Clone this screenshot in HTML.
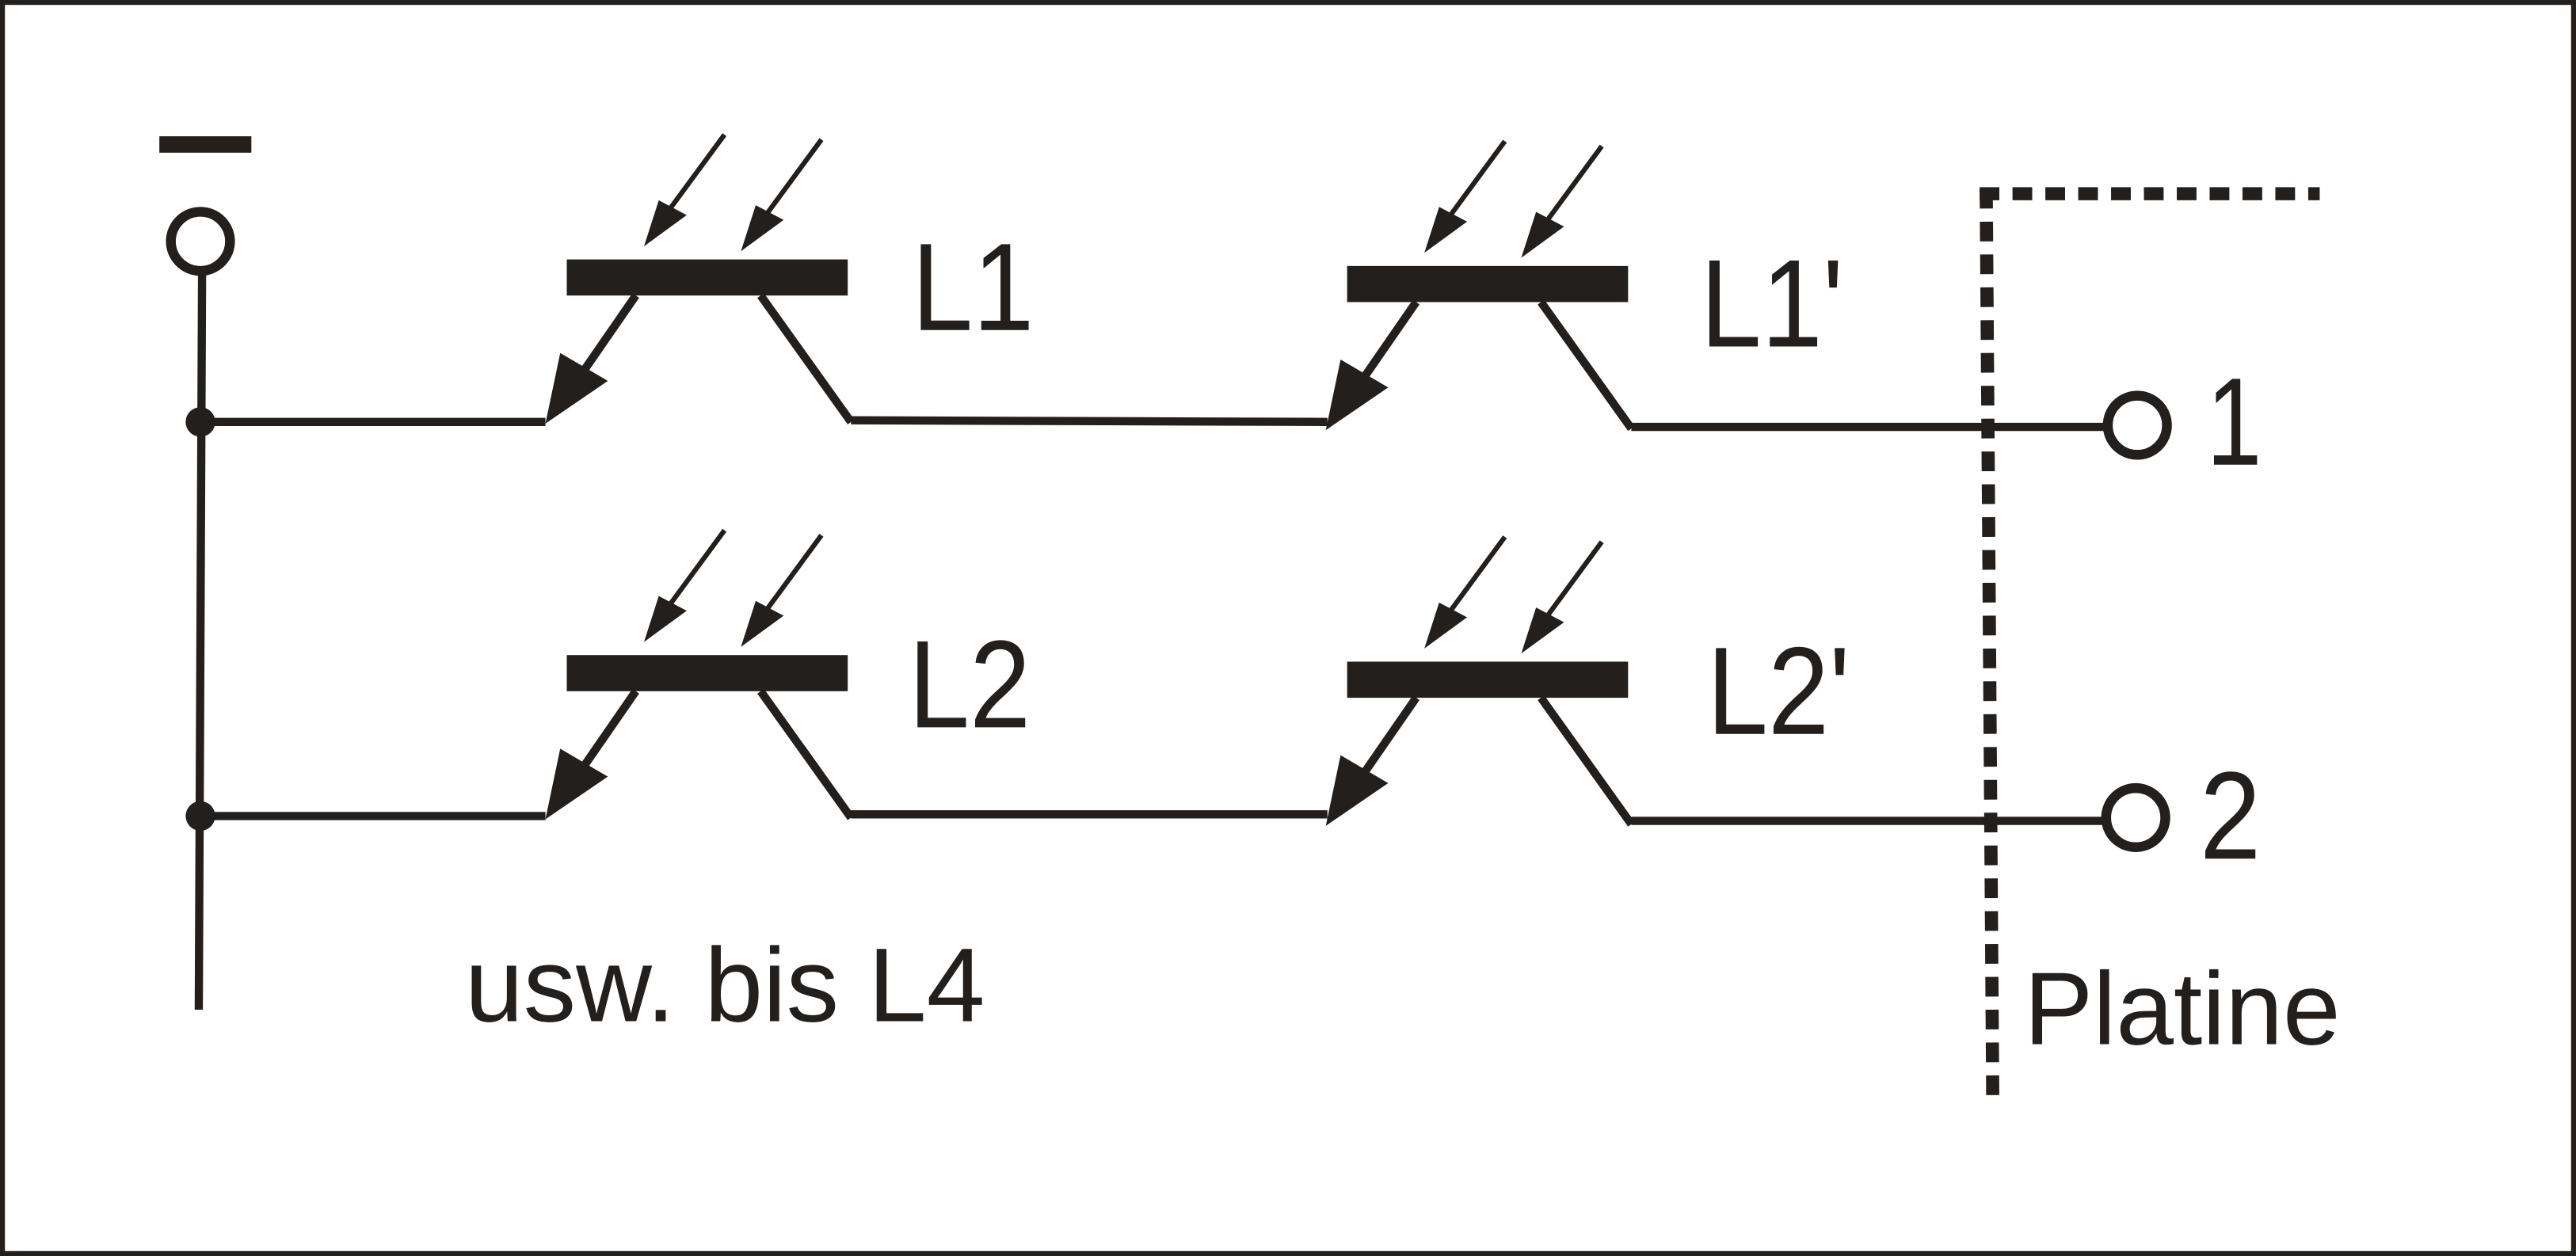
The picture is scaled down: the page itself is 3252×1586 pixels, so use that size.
<!DOCTYPE html>
<html><head><meta charset="utf-8"><style>
html,body{margin:0;padding:0;background:#fff}
svg{display:block}
text{font-family:"Liberation Sans",Arial,sans-serif;fill:#231f1c}
</style></head><body>
<svg width="3252" height="1586" viewBox="0 0 1568 765" preserveAspectRatio="none" xmlns="http://www.w3.org/2000/svg">
<defs>
<g id="tr">
  <rect x="345" y="158" width="171" height="22" fill="#231f1c"/>
  <line x1="387" y1="180" x2="340" y2="248" stroke="#231f1c" stroke-width="5"/>
  <polygon points="341,215 370,232 332,258" fill="#231f1c"/>
  <line x1="463" y1="180" x2="518" y2="257" stroke="#231f1c" stroke-width="5"/>
  <line x1="441" y1="82" x2="405" y2="131" stroke="#231f1c" stroke-width="3"/>
  <polygon points="401,122 418,131 392,150" fill="#231f1c"/>
  <line x1="500" y1="85" x2="464" y2="134" stroke="#231f1c" stroke-width="3"/>
  <polygon points="460,125 477,134 451,153" fill="#231f1c"/>
</g>
</defs>
<rect x="1.5" y="1.5" width="1565" height="762" fill="#fff" stroke="#231f1c" stroke-width="3"/>
<use href="#tr"/>
<use href="#tr" transform="translate(475,4)"/>
<use href="#tr" transform="translate(0,241)"/>
<use href="#tr" transform="translate(475,245)"/>
<g stroke="#231f1c" stroke-width="5" fill="none">
  <line x1="122" y1="257" x2="332" y2="257"/>
  <line x1="518" y1="256" x2="808" y2="257"/>
  <line x1="993" y1="260" x2="1282" y2="260"/>
  <line x1="122" y1="497" x2="332" y2="497"/>
  <line x1="518" y1="496" x2="808" y2="496"/>
  <line x1="993" y1="500" x2="1282" y2="500"/>
  <line x1="123" y1="166" x2="121" y2="615"/>
  <circle cx="122" cy="147" r="18" stroke-width="6" fill="#fff"/>
  <circle cx="1301" cy="259" r="18" stroke-width="6" fill="#fff"/>
  <circle cx="1300" cy="498" r="18" stroke-width="6" fill="#fff"/>
</g>
<circle cx="122" cy="257" r="9" fill="#231f1c"/>
<circle cx="122" cy="497" r="9" fill="#231f1c"/>
<rect x="97" y="83" width="56" height="10" fill="#231f1c"/>
<g stroke="#231f1c" stroke-width="8" stroke-dasharray="12,8" fill="none">
  <line x1="1209" y1="115" x2="1213" y2="672"/>
  <line x1="1205" y1="118" x2="1412" y2="118"/>
</g>
<g font-size="76">
<text transform="translate(555,201) scale(0.88,1)">L1</text>
<text transform="translate(1035,211) scale(0.88,1)">L1'</text>
<text transform="translate(553,443) scale(0.88,1)">L2</text>
<text transform="translate(1039,447) scale(0.88,1)">L2'</text>
<text transform="translate(1343,283) scale(0.8,1)">1</text>
<text transform="translate(1339,523) scale(0.88,1)">2</text>
</g>
<text x="283" y="622" font-size="64">usw. bis L4</text>
<text x="1232" y="636" font-size="63">Platine</text>
</svg>
</body></html>
